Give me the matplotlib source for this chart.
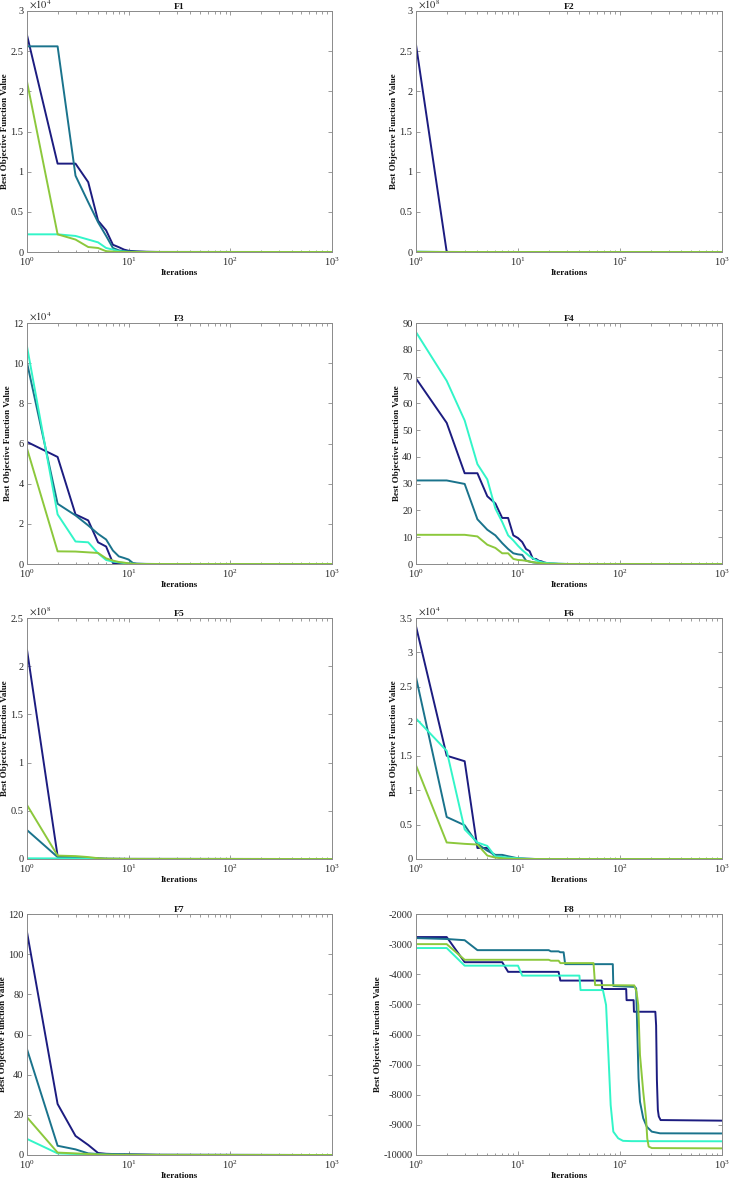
import matplotlib
matplotlib.use("Agg")
import matplotlib.pyplot as plt
from matplotlib.ticker import FuncFormatter, LogLocator, NullFormatter

plt.rcParams['font.family'] = ['Liberation Serif', 'DejaVu Serif']
plt.rcParams['mathtext.fontset'] = 'stix'

# line colours (order: navy, teal, cyan, green)
c_navy = '#1c1c80'
c_teal = '#1a738c'
c_cyan = '#32f5c8'
c_green = '#8cc83c'

# ---- F1 ----
f1_it = [1, 2, 3, 4, 5, 6, 7, 8, 9, 10, 12, 15, 20, 1000]
f1_navy = [2.70e4, 1.10e4, 1.10e4, 0.87e4, 0.39e4, 0.27e4, 0.09e4, 0.06e4, 0.03e4, 0.015e4, 0.008e4, 0.003e4, 10, 0]
f1_teal = [2.56e4, 2.56e4, 0.95e4, 0.62e4, 0.37e4, 0.20e4, 0.05e4, 0.02e4, 0.01e4, 0.005e4, 20, 10, 0, 0]
f1_cyan = [0.22e4, 0.22e4, 0.20e4, 0.155e4, 0.12e4, 0.05e4, 0.03e4, 0.01e4, 50, 20, 10, 0, 0, 0]
f1_green = [2.12e4, 0.22e4, 0.155e4, 0.062e4, 0.05e4, 0.01e4, 50, 20, 10, 0, 0, 0, 0, 0]

# ---- F2 ----
f2_it = [1, 2, 3, 1000]
f2_navy = [2.58e8, 1e5, 1e4, 0]
f2_teal = [3e5, 1e4, 1e3, 0]
f2_cyan = [2e5, 1e4, 1e3, 0]
f2_green = [1e5, 1e4, 1e3, 0]

# ---- F3 ----
f3_it = [1, 2, 3, 4, 5, 6, 7, 8, 9, 10, 11, 12, 15, 20, 1000]
f3_navy = [6.08e4, 5.33e4, 2.47e4, 2.17e4, 1.08e4, 0.87e4, 0.05e4, 0.04e4, 0.03e4, 0.02e4, 0.01e4, 50, 0, 0, 0]
f3_teal = [10.03e4, 3.0e4, 2.42e4, 1.92e4, 1.5e4, 1.22e4, 0.67e4, 0.38e4, 0.3e4, 0.22e4, 0.05e4, 0.02e4, 50, 0, 0]
f3_cyan = [10.83e4, 2.47e4, 1.12e4, 1.08e4, 0.53e4, 0.2e4, 0.12e4, 0.08e4, 0.05e4, 0.02e4, 0.01e4, 0, 0, 0, 0]
f3_green = [5.75e4, 0.63e4, 0.62e4, 0.58e4, 0.55e4, 0.28e4, 0.17e4, 0.1e4, 0.07e4, 0.03e4, 0.01e4, 0, 0, 0, 0]

# ---- F4 ----
f4_it = [1, 2, 3, 4, 5, 6, 7, 8, 9, 10, 11, 12, 13, 14, 15, 16, 17, 18, 20, 25, 30, 1000]
f4_navy = [69.3, 52.7, 33.9, 33.9, 25.3, 22.6, 17.2, 17.2, 10.7, 9.7, 8.2, 5.6, 4.8, 1.9, 1.9, 1.2, 1.0, 0.6, 0.2, 0.05, 0.01, 0]
f4_teal = [31.2, 31.2, 29.9, 16.7, 12.8, 10.7, 7.8, 5.6, 4.0, 3.6, 3.4, 1.25, 0.9, 0.6, 0.5, 0.4, 0.3, 0.2, 0.1, 0.03, 0.01, 0]
f4_cyan = [86.6, 68.4, 53.6, 37.3, 31.6, 20.7, 15.7, 10.7, 8.8, 6.8, 5.2, 4.0, 2.9, 2.1, 1.5, 1.0, 0.7, 0.5, 0.3, 0.1, 0.02, 0]
f4_green = [10.9, 10.9, 10.9, 10.3, 7.2, 6.0, 4.0, 4.0, 1.9, 1.5, 1.4, 1.2, 0.9, 0.7, 0.5, 0.4, 0.3, 0.2, 0.1, 0.03, 0.01, 0]

# ---- F5 ----
f5_it = [1, 2, 3, 4, 5, 6, 10, 1000]
f5_navy = [2.17e8, 0.03e8, 0.02e8, 0.01e8, 0.005e8, 0.002e8, 0.001e8, 0]
f5_teal = [0.30e8, 0.02e8, 0.015e8, 0.01e8, 0.005e8, 0.002e8, 0.001e8, 0]
f5_cyan = [0.007e8, 0.006e8, 0.005e8, 0.004e8, 0.002e8, 0.001e8, 0, 0]
f5_green = [0.56e8, 0.035e8, 0.03e8, 0.02e8, 0.008e8, 0.004e8, 0.001e8, 0]

# ---- F6 ----
f6_it = [1, 2, 3, 4, 5, 6, 7, 8, 10, 12, 15, 1000]
f6_navy = [3.38e4, 1.50e4, 1.42e4, 0.16e4, 0.16e4, 0.03e4, 0.02e4, 0.01e4, 50, 20, 0, 0]
f6_teal = [2.64e4, 0.61e4, 0.49e4, 0.22e4, 0.12e4, 0.06e4, 0.06e4, 0.04e4, 0.01e4, 50, 0, 0]
f6_cyan = [2.04e4, 1.57e4, 0.43e4, 0.24e4, 0.19e4, 0.035e4, 0.03e4, 0.02e4, 0.01e4, 20, 0, 0]
f6_green = [1.36e4, 0.24e4, 0.22e4, 0.21e4, 0.05e4, 0.02e4, 0.01e4, 50, 20, 0, 0, 0]

# ---- F7 ----
f7_it = [1, 2, 3, 4, 5, 6, 8, 10, 20, 1000]
f7_navy = [111, 25.4, 9.5, 5.0, 1.0, 0.6, 0.4, 0.35, 0.1, 0]
f7_teal = [52.7, 4.6, 2.8, 0.8, 0.5, 0.4, 0.3, 0.2, 0.1, 0]
f7_cyan = [8.0, 0.8, 0.5, 0.3, 0.2, 0.1, 0.1, 0.05, 0, 0]
f7_green = [18.8, 1.2, 0.8, 0.5, 0.3, 0.2, 0.1, 0.1, 0.05, 0]

# ---- F8 (each run has its own step points) ----
f8_navy_it = [1, 2, 3, 7, 8, 25, 26, 66, 67, 115, 116, 136, 137, 222, 226, 230, 235, 240, 250, 1000]
f8_navy = [-2765, -2765, -3600, -3600, -3920, -3920, -4210, -4210, -4490, -4490, -4860, -4860, -5245, -5245,
           -5700, -7500, -8500, -8720, -8840, -8860]
f8_teal_it = [1, 2, 3, 4, 20, 21, 25, 26, 28, 29, 85, 86, 140, 144, 152, 157, 169, 183, 205, 247, 1000]
f8_teal = [-2800, -2830, -2870, -3200, -3200, -3240, -3240, -3270, -3270, -3665, -3665, -4390, -4420, -4470,
           -7450, -8230, -8780, -9060, -9225, -9280, -9285]
f8_cyan_it = [1, 2, 3, 10, 11, 40, 41, 68, 73, 77, 81, 86, 96, 107, 130, 1000]
f8_cyan = [-3130, -3130, -3715, -3715, -4045, -4045, -4525, -4525, -5020, -6680, -8340, -9225, -9445, -9530,
           -9540, -9545]
f8_green_it = [1, 2, 3, 20, 21, 25, 26, 55, 57, 138, 145, 151, 157, 169, 180, 185, 191, 205, 1000]
f8_green = [-3000, -3000, -3520, -3520, -3550, -3550, -3630, -3630, -4360, -4370, -4580, -5020, -6680, -7900,
            -8780, -9450, -9720, -9770, -9780]

titles = ['F1', 'F2', 'F3', 'F4', 'F5', 'F6', 'F7', 'F8']
y_limits = [(0, 3e4), (0, 3e8), (0, 12e4), (0, 90), (0, 2.5e8), (0, 3.5e4), (0, 120), (-10000, -2000)]
y_steps = [0.5e4, 0.5e8, 2e4, 10, 0.5e8, 0.5e4, 20, 1000]
y_scales = [4, 8, 4, 0, 8, 4, 0, 0]

panels = [
    [(f1_it, f1_navy), (f1_it, f1_teal), (f1_it, f1_cyan), (f1_it, f1_green)],
    [(f2_it, f2_navy), (f2_it, f2_teal), (f2_it, f2_cyan), (f2_it, f2_green)],
    [(f3_it, f3_navy), (f3_it, f3_teal), (f3_it, f3_cyan), (f3_it, f3_green)],
    [(f4_it, f4_navy), (f4_it, f4_teal), (f4_it, f4_cyan), (f4_it, f4_green)],
    [(f5_it, f5_navy), (f5_it, f5_teal), (f5_it, f5_cyan), (f5_it, f5_green)],
    [(f6_it, f6_navy), (f6_it, f6_teal), (f6_it, f6_cyan), (f6_it, f6_green)],
    [(f7_it, f7_navy), (f7_it, f7_teal), (f7_it, f7_cyan), (f7_it, f7_green)],
    [(f8_navy_it, f8_navy), (f8_teal_it, f8_teal), (f8_cyan_it, f8_cyan), (f8_green_it, f8_green)],
]
colors = [c_navy, c_teal, c_cyan, c_green]

W, H = 729, 1180
fig = plt.figure(figsize=(W / 100, H / 100), dpi=100)

col_left = [27, 416]
col_width = [305, 306]
row_top = [11, 323, 618, 914]
ax_h = 241

spine_col = '#8a8a8a'
text_col = '#262626'
fs = 7.5
lab_fs = 6.5

for i in range(8):
    r, c = divmod(i, 2)
    ax = fig.add_axes([col_left[c] / W, 1 - (row_top[r] + ax_h) / H, col_width[c] / W, ax_h / H])
    for (xs, ys), col in zip(panels[i], colors):
        ax.plot(xs, ys, color=col, lw=1.4)
    ax.set_xscale('log')
    ax.set_xlim(1, 1000)
    lo, hi = y_limits[i]
    ax.set_ylim(lo, hi)
    step = y_steps[i]
    n = int(round((hi - lo) / step))
    ax.set_yticks([lo + k * step for k in range(n + 1)])
    sc = 10 ** y_scales[i]
    ax.yaxis.set_major_formatter(FuncFormatter(lambda v, p, sc=sc: '%g' % (v / sc)))
    ax.xaxis.set_major_locator(LogLocator(base=10, numticks=10))
    ax.xaxis.set_minor_locator(LogLocator(base=10, subs=range(2, 10), numticks=10))
    ax.xaxis.set_minor_formatter(NullFormatter())
    ax.tick_params(which='both', direction='in', top=True, right=True,
                   colors=spine_col, labelcolor=text_col, labelsize=fs, width=0.6)
    ax.tick_params(which='major', length=3)
    ax.tick_params(axis='x', which='major', pad=2.5)
    ax.tick_params(axis='y', which='major', pad=2.5)
    ax.tick_params(which='minor', length=1.8)
    for s in ax.spines.values():
        s.set_color(spine_col)
        s.set_linewidth(0.7)
    if y_scales[i]:
        ax.text(0.005, 1.0, r'$\times10^{%d}$' % y_scales[i], transform=ax.transAxes,
                ha='left', va='bottom', fontsize=fs, color=text_col)
    ax.set_title(titles[i], fontsize=6.8, fontweight='bold', pad=1.5, color='#111111')
    ax.set_xlabel('Iterations', fontsize=lab_fs, fontweight='bold', labelpad=1, color='#111111')
    ax.set_ylabel('Best Objective Function Value', fontsize=lab_fs, fontweight='bold', labelpad=1,
                  color='#111111')

fig.savefig('out.png', dpi=100)
